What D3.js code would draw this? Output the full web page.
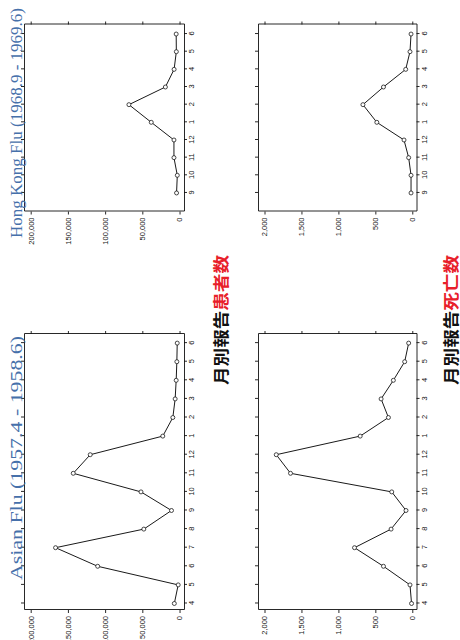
<!DOCTYPE html>
<meta charset="utf-8">
<html>
	<head>
		<meta charset="utf-8">
		<script src="https://d3js.org/d3.v7.min.js"></script>
		<style>
			body { margin: 0; background: #fff; }
			.tick line, .domain { stroke: #111; }
		</style>
	</head>
	<body>
		<div id="flu"></div>
		<script>
			// Monthly reports
			var asianMonths = ["4", "5", "6", "7", "8", "9", "10", "11", "12", "1", "2", "3", "4", "5", "6"];
			var asianCases = [7000, 1800, 110000, 166600, 48000, 10800, 51800, 142800, 120000, 22500, 9000, 5900, 4500, 3600, 3100];
			var asianDeaths = [10, 31, 390, 782, 287, 85, 278, 1648, 1841, 705, 323, 422, 256, 103, 49];

			var hkMonths = ["9", "10", "11", "12", "1", "2", "3", "4", "5", "6"];
			var hkCases = [4000, 3000, 7500, 7500, 38000, 68000, 19000, 7300, 4300, 4500];
			var hkDeaths = [17, 17, 49, 112, 480, 668, 390, 89, 31, 17];

			var caseTicks = [0, 50000, 100000, 150000, 200000];
			var deathTicks = [0, 500, 1000, 1500, 2000];

			var width = 460, height = 640;

			var svg = d3.select("#flu").append("svg")
				.attr("width", width)
				.attr("height", height);

			// The whole page is turned a quarter turn, so draw it upright and rotate
			var page = svg.append("g")
				.attr("transform", "translate(0," + height + ") rotate(-90)");

			// Columns (flu) and rows (cases / deaths) in the upright frame
			var cols = {
				asian: {box: [30, 306], dom: [-0.35, 14.49], months: asianMonths, title: "Asian Flu  (1957.4 - 1958.6)", tx: 60, tlen: 244},
				hk: {box: [428.5, 615.5], dom: [-1.05, 9.54], months: hkMonths, title: "Hong Kong Flu (1968.9 - 1969.6)", tx: 402, tlen: 230}
			};
			var rows = {
				cases: {box: [24, 184], dom: [-6000, 209000], ticks: caseTicks},
				deaths: {box: [258, 416.5], dom: [-57, 2088], ticks: deathTicks}
			};

			var panels = [
				{col: cols.asian, row: rows.cases, values: asianCases},
				{col: cols.hk, row: rows.cases, values: hkCases},
				{col: cols.asian, row: rows.deaths, values: asianDeaths},
				{col: cols.hk, row: rows.deaths, values: hkDeaths}
			];

			var fmt = d3.format(",");

			panels.forEach(function(p) {
				var x = d3.scaleLinear().domain(p.col.dom).range(p.col.box);
				var y = d3.scaleLinear().domain(p.row.dom).range([p.row.box[1], p.row.box[0]]);
				var idx = d3.range(p.values.length);
				var g = page.append("g");

				// month axis with labels, plus bare ticks on the opposite side
				g.append("g")
					.attr("transform", "translate(0," + p.row.box[1] + ")")
					.call(d3.axisBottom(x).tickValues(idx).tickSize(3).tickSizeOuter(0).tickPadding(2)
						.tickFormat(function(i) { return p.col.months[i]; }));
				g.append("g")
					.attr("transform", "translate(0," + p.row.box[0] + ")")
					.call(d3.axisTop(x).tickValues(idx).tickSize(3).tickSizeOuter(0).tickFormat(""));

				// value axis with labels, plus bare ticks on the opposite side
				g.append("g")
					.attr("transform", "translate(" + p.col.box[0] + ",0)")
					.call(d3.axisLeft(y).tickValues(p.row.ticks).tickSize(3).tickSizeOuter(0).tickPadding(3)
						.tickFormat(fmt));
				g.append("g")
					.attr("transform", "translate(" + p.col.box[1] + ",0)")
					.call(d3.axisRight(y).tickValues(p.row.ticks).tickSize(3).tickSizeOuter(0).tickFormat(""));

				g.selectAll(".tick text")
					.attr("font-family", "'Liberation Sans', Arial, sans-serif")
					.attr("font-size", 7.5)
					.attr("fill", "#111");
				g.selectAll(".domain, .tick line").attr("stroke-width", 0.9);

				// the series line and its open circles
				var line = d3.line()
					.x(function(d, i) { return x(i); })
					.y(function(d) { return y(d); });

				g.append("path")
					.datum(p.values)
					.attr("d", line)
					.attr("fill", "none")
					.attr("stroke", "#1a1a1a")
					.attr("stroke-width", 1);

				g.selectAll("circle")
					.data(p.values)
					.enter().append("circle")
					.attr("cx", function(d, i) { return x(i); })
					.attr("cy", function(d) { return y(d); })
					.attr("r", 2)
					.attr("fill", "#fff")
					.attr("stroke", "#1a1a1a")
					.attr("stroke-width", 0.8);
			});

			// Titles over the top row
			[cols.asian, cols.hk].forEach(function(c) {
				page.append("text")
					.attr("x", c.tx)
					.attr("y", 22)
					.attr("font-family", "'Liberation Serif', 'Times New Roman', serif")
					.attr("font-size", 16)
					.attr("fill", "#4670aa")
					.attr("textLength", c.tlen)
					.attr("lengthAdjust", "spacingAndGlyphs")
					.text(c.title);
			});

			// Row captions
			var captions = [
				{y: 227, head: "月別報告", tail: "患者数"},
				{y: 457, head: "月別報告", tail: "死亡数"}
			];
			captions.forEach(function(c) {
				var t = page.append("text")
					.attr("x", 255)
					.attr("y", c.y)
					.attr("font-family", "'Noto Sans CJK JP', sans-serif")
					.attr("font-weight", "bold")
					.attr("font-size", 16)
					.attr("textLength", 130)
					.attr("lengthAdjust", "spacingAndGlyphs");
				t.append("tspan").attr("fill", "#111").text(c.head);
				t.append("tspan").attr("fill", "#e8202a").text(c.tail);
			});
		</script>
	</body>
</html>
